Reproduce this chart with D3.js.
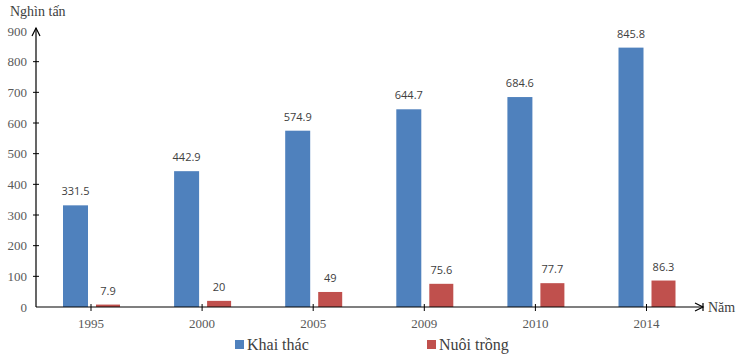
<!DOCTYPE html>
<html><head><meta charset="utf-8">
<script src="https://cdn.jsdelivr.net/npm/d3@7"></script>
<style>body{margin:0;background:#fff}svg{display:block}</style>
</head><body><svg id="c" width="740" height="359"></svg>
<script>
const years = ["1995","2000","2005","2009","2010","2014"];
const khaiThac = [331.5, 442.9, 574.9, 644.7, 684.6, 845.8];
const nuoiTrong = [7.9, 20, 49, 75.6, 77.7, 86.3];
const khaiLabels = ["331.5","442.9","574.9","644.7","684.6","845.8"];
const nuoiLabels = ["7.9","20","49","75.6","77.7","86.3"];
const yTicks = [0,100,200,300,400,500,600,700,800,900];
const seriesNames = ["Khai thác","Nuôi trồng"];
const colors = ["#4F81BD","#C0504D"];

const svg = d3.select("#c");
const x0 = 36, y0 = 307;
const y = d3.scaleLinear().domain([0,900]).range([y0,31]);
const x = d3.scaleBand().domain(years).range([36,702]).paddingInner(0).paddingOuter(0.0);
const xs = d3.scalePoint().domain(years).range([91,646.5]);
const serif = "'Liberation Serif','Times New Roman',serif";
const sans = "'Open Sans','Liberation Sans',sans-serif";

// bars
const bw = 25;
svg.selectAll(".b1").data(years).enter().append("rect")
  .attr("x", d=>xs(d)-28).attr("width", bw)
  .attr("y", (d,i)=>y(khaiThac[i])).attr("height",(d,i)=>y0-y(khaiThac[i]))
  .attr("fill", colors[0]);
svg.selectAll(".b2").data(years).enter().append("rect")
  .attr("x", d=>xs(d)+5).attr("width", 24)
  .attr("y", (d,i)=>y(nuoiTrong[i])).attr("height",(d,i)=>y0-y(nuoiTrong[i]))
  .attr("fill", colors[1]);

// data labels
svg.selectAll(".l1").data(years).enter().append("text")
  .attr("x", d=>xs(d)-15.5).attr("y",(d,i)=>y(khaiThac[i])-10)
  .attr("text-anchor","middle").attr("font-family",sans).attr("font-size",11)
  .attr("fill","#404040").text((d,i)=>khaiLabels[i]);
svg.selectAll(".l2").data(years).enter().append("text")
  .attr("x", d=>xs(d)+17).attr("y",(d,i)=>y(nuoiTrong[i])-10)
  .attr("text-anchor","middle").attr("font-family",sans).attr("font-size",11)
  .attr("fill","#404040").text((d,i)=>nuoiLabels[i]);

// y axis
const ax = svg.append("g").attr("stroke","#000").attr("stroke-width",1.2);
ax.append("line").attr("x1",x0).attr("x2",x0).attr("y1",y0).attr("y2",28);
ax.append("path").attr("d",`M${x0-4},${36} L${x0},${28} L${x0+4},${36}`).attr("fill","none");
svg.selectAll(".yt").data(yTicks.slice(1,-1)).enter().append("line")
  .attr("x1",x0-3).attr("x2",x0+3).attr("y1",d=>y(d)).attr("y2",d=>y(d))
  .attr("stroke","#000").attr("stroke-width",1);
svg.selectAll(".yl").data(yTicks).enter().append("text")
  .attr("x",27).attr("y",d=>y(d)+4.5).attr("text-anchor","end")
  .attr("font-family",serif).attr("font-size",13).attr("fill","#595959").text(d=>d);

// x axis
ax.append("line").attr("x1",x0).attr("x2",703).attr("y1",y0).attr("y2",y0);
ax.append("path").attr("d",`M${695},${y0-4} L${703},${y0} L${695},${y0+4}`).attr("fill","none");
ax.append("line").attr("x1",703).attr("x2",703).attr("y1",y0-4).attr("y2",y0+4);
svg.selectAll(".xt").data(years).enter().append("line")
  .attr("x1",d=>xs(d)).attr("x2",d=>xs(d)).attr("y1",y0-3).attr("y2",y0+4)
  .attr("stroke","#000").attr("stroke-width",1);
svg.selectAll(".xl").data(years).enter().append("text")
  .attr("x",d=>xs(d)).attr("y",328).attr("text-anchor","middle")
  .attr("font-family",serif).attr("font-size",13).attr("fill","#595959").text(d=>d);

// axis titles
svg.append("text").attr("x",10).attr("y",16).attr("font-family",serif).attr("font-size",14)
  .attr("fill","#404040").text("Nghìn tấn");
svg.append("text").attr("x",708).attr("y",312).attr("font-family",serif).attr("font-size",14)
  .attr("fill","#404040").text("Năm");

// legend
const legX = [235, 427];
seriesNames.forEach((n,i)=>{
  svg.append("rect").attr("x",legX[i]).attr("y",340).attr("width",9).attr("height",9).attr("fill",colors[i]);
  svg.append("text").attr("x",legX[i]+12).attr("y",350).attr("font-family",serif).attr("font-size",16)
    .attr("fill","#404040").text(n);
});
</script></body></html>
